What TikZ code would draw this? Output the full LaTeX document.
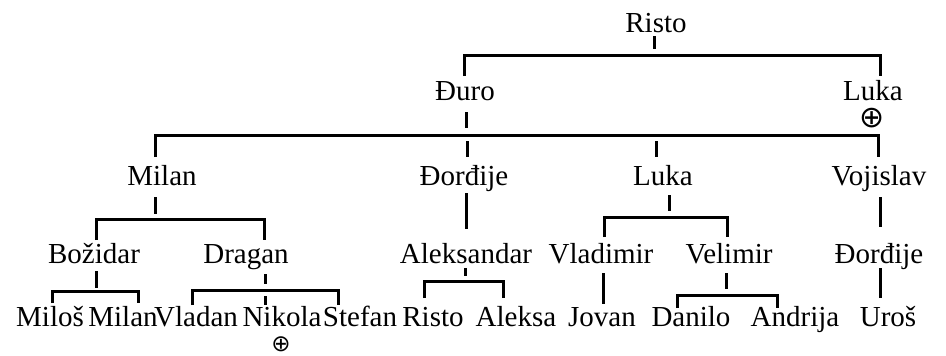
\documentclass[tikz,border=0pt]{standalone}
\usepackage{fontspec}
\setmainfont{Liberation Serif}
\newfontfamily\symfont{DejaVu Sans}
\begin{document}
\begin{tikzpicture}[x=1pt,y=-1pt,
  nm/.style={anchor=base,inner sep=0pt,font=\fontsize{29}{32}\selectfont},
  ln/.style={line width=3pt,line join=miter}]
\useasboundingbox (0,0) rectangle (946,356);
% level 0
\node[nm] (risto) at (656,32) {Risto};
% level 1
\node[nm] (duro) at (465,100) {Đuro};
\node[nm] (luka1) at (873,100) {Luka};
\node[inner sep=0pt,font=\symfont\fontsize{30}{32}\selectfont] (oplusA) at (872,118) {⊕};
% level 2
\node[nm] (milan) at (162,185) {Milan};
\node[nm] (dorA) at (464,185) {Đorđije};
\node[nm] (luka2) at (663,185) {Luka};
\node[nm] (vojislav) at (879,185) {Vojislav};
% level 3
\node[nm] (bozidar) at (94,263) {Božidar};
\node[nm] (dragan) at (246,263) {Dragan};
\node[nm] (aleksandar) at (466,263) {Aleksandar};
\node[nm] (vladimir) at (601,263) {Vladimir};
\node[nm] (velimir) at (729,263) {Velimir};
\node[nm] (dorB) at (879,263) {Đorđije};
% level 4
\node[nm] (milos) at (50,326) {Miloš};
\node[nm] (milan2) at (123,326) {Milan};
\node[nm] (vladan) at (196,326) {Vladan};
\node[nm] (nikola) at (282,326) {Nikola};
\node[nm] (stefan) at (360,326) {Stefan};
\node[nm] (risto2) at (433,326) {Risto};
\node[nm] (aleksa) at (516,326) {Aleksa};
\node[nm] (jovan) at (602,326) {Jovan};
\node[nm] (danilo) at (691,326) {Danilo};
\node[nm] (andrija) at (795,326) {Andrija};
\node[nm] (uros) at (888,326) {Uroš};
\node[inner sep=0pt,font=\symfont\fontsize{23}{25}\selectfont] (oplusB) at (281,344) {⊕};
% connectors
\draw[ln] (654,36) -- (654,49);
\draw[ln] (464,76) -- (464,55) -- (880,55) -- (880,76);
\draw[ln] (466,112) -- (466,128);
\draw[ln] (155,157) -- (155,135) -- (878,135) -- (878,157);
\draw[ln] (467,141) -- (467,157);
\draw[ln] (656,141) -- (656,157);
\draw[ln] (155,197) -- (155,214);
\draw[ln] (96,240) -- (96,219) -- (264,219) -- (264,240);
\draw[ln] (466,193) -- (466,229);
\draw[ln] (669,195) -- (669,211);
\draw[ln] (604,237) -- (604,217) -- (727,217) -- (727,237);
\draw[ln] (880,197) -- (880,227);
\draw[ln] (96,271) -- (96,288);
\draw[ln] (52,303) -- (52,291) -- (138,291) -- (138,303);
\draw[ln] (265,274) -- (265,284);
\draw[ln] (192,305) -- (192,290) -- (338,290) -- (338,305);
\draw[ln] (265,296) -- (265,305);
\draw[ln] (465,268) -- (465,276);
\draw[ln] (424,298) -- (424,281) -- (503,281) -- (503,298);
\draw[ln] (603,273) -- (603,304);
\draw[ln] (726,273) -- (726,289);
\draw[ln] (677,308) -- (677,295) -- (777,295) -- (777,308);
\draw[ln] (880,268) -- (880,298);
\end{tikzpicture}
\end{document}
